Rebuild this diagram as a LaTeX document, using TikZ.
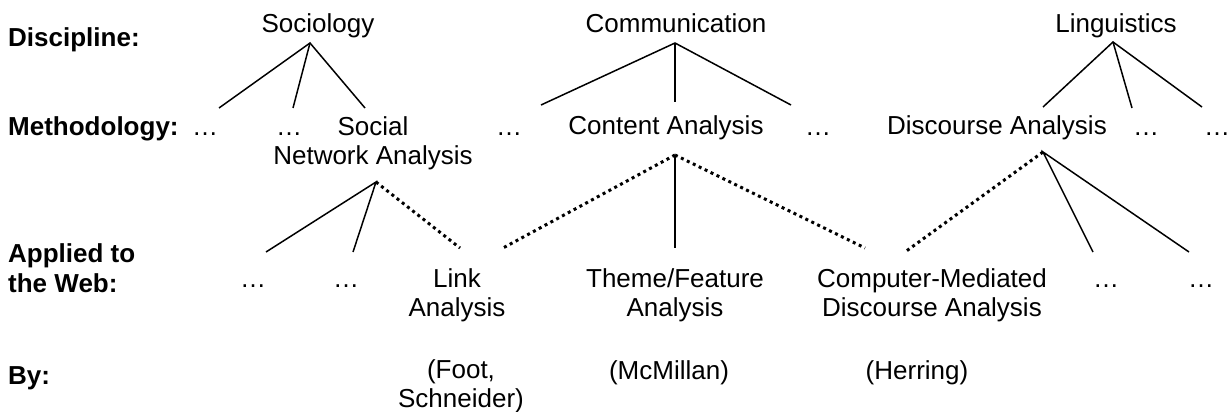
\documentclass[tikz,border=0pt]{standalone}
\usepackage{fontspec}
\setmainfont{Liberation Sans}
\begin{document}
\begin{tikzpicture}[x=1pt,y=-1pt,
  every node/.style={inner sep=0pt},
  lbl/.style={anchor=base west, align=left, font=\fontsize{26}{30}\selectfont\bfseries},
  txt/.style={anchor=base, align=center, font=\fontsize{26}{29}\selectfont},
  edge/.style={line width=1.5pt},
  dotline/.style={line width=3pt, dash pattern=on 3pt off 3.6pt}]
\useasboundingbox (0,0) rectangle (1231,412);

% row labels (multi-line nodes are anchored at their last line)
\node[lbl] (discipline) at (8,47) {Discipline:};
\node[lbl] (methodology) at (8,135) {Methodology:};
\node[lbl] (applied) at (8,292) {Applied to\\the Web:};
\node[lbl] (by) at (8,384) {By:};

% disciplines
\node[txt] (soc) at (318,33) {Sociology};
\node[txt] (com) at (676,33) {Communication};
\node[txt] (ling) at (1116,33) {Linguistics};

% methodologies
\node[txt] (m1) at (205,135) {…};
\node[txt] (m2) at (289,135) {…};
\node[txt] (sna) at (373,164) {Social\\Network Analysis};
\node[txt] (m3) at (509,135) {…};
\node[txt] (ca) at (666,134) {Content Analysis};
\node[txt] (m4) at (818,135) {…};
\node[txt] (da) at (997,134) {Discourse Analysis};
\node[txt] (m5) at (1146,135) {…};
\node[txt] (m6) at (1217,135) {…};

% applied to the web
\node[txt] (w1) at (253,287) {…};
\node[txt] (w2) at (346,287) {…};
\node[txt] (la) at (457,316) {Link\\Analysis};
\node[txt] (tf) at (675,316) {Theme/Feature\\Analysis};
\node[txt] (cmda) at (932,316) {Computer-Mediated\\Discourse Analysis};
\node[txt] (w3) at (1106,287) {…};
\node[txt] (w4) at (1201,287) {…};

% by
\node[txt] (foot) at (461,407) {(Foot,\\Schneider)};
\node[txt] (mcm) at (669,379) {(McMillan)};
\node[txt] (her) at (917,379) {(Herring)};

% discipline -> methodology
\draw[edge] ([shift={(14,-27)}]m1.base) -- ([shift={(-8,10)}]soc.base) -- ([shift={(-8,-56)}]sna.base);
\draw[edge] ([shift={(-8,10)}]soc.base) -- ([shift={(4,-27)}]m2.base);
\draw[edge] ([shift={(32,-30)}]m3.base) -- ([shift={(-1,10)}]com.base) -- ([shift={(-27,-30)}]m4.base);
\draw[edge] ([shift={(-1,10)}]com.base) -- ([shift={(9,-32)}]ca.base);
\draw[edge] ([shift={(46,-27)}]da.base) -- ([shift={(-3,9)}]ling.base) -- ([shift={(-15,-28)}]m6.base);
\draw[edge] ([shift={(-3,9)}]ling.base) -- ([shift={(-14,-27)}]m5.base);

% methodology -> applied
\draw[edge] ([shift={(13,-35)}]w1.base) -- ([shift={(3,18)}]sna.base) -- ([shift={(7,-35)}]w2.base);
\draw[dotline] ([shift={(3,18)}]sna.base) -- ([shift={(3,-68)}]la.base);
\draw[edge] ([shift={(9,21)}]ca.base) -- ([shift={(0,-68)}]tf.base);
\draw[dotline] ([shift={(9,21)}]ca.base) -- ([shift={(46,-68)}]la.base);
\draw[dotline] ([shift={(9,21)}]ca.base) -- ([shift={(-67,-68)}]cmda.base);
\draw[dotline] ([shift={(46,18)}]da.base) -- ([shift={(-27,-64)}]cmda.base);
\draw[edge] ([shift={(-13,-35)}]w3.base) -- ([shift={(46,18)}]da.base) -- ([shift={(-12,-35)}]w4.base);
\end{tikzpicture}
\end{document}
